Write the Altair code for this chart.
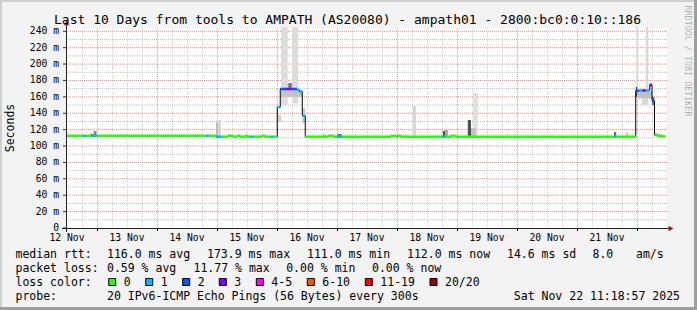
import altair as alt
import pandas as pd

# ---------------- data ----------------
title_text = "Last 10 Days from tools to AMPATH (AS20080) - ampath01 - 2800:bc0:0:10::186"
day_labels = ["12 Nov", "13 Nov", "14 Nov", "15 Nov", "16 Nov",
              "17 Nov", "18 Nov", "19 Nov", "20 Nov", "21 Nov"]
day_label_hours = [0, 24, 48, 72, 96, 120, 144, 168, 192, 216]
y_ticks_ms = [0, 20, 40, 60, 80, 100, 120, 140, 160, 180, 200, 220, 240]

# median rtt segments (hours since 12 Nov 12:00, ms, loss class)
seg_start = [0, 6.5, 7.6, 9.6, 11.8, 55.6, 56.6, 59.6, 61.6, 64.4, 66.4, 68.0, 69.2, 71.2,
             72.0, 73.5, 74.5, 78.0, 79.2, 81.5, 82.5, 84.1, 85.3, 87.7, 89.7, 92.0, 93.0,
             94.1, 95.3, 104.4, 106.4, 108.1, 109.9, 129.6, 131.6, 132.1, 133.5, 150.3,
             151.3, 153.6, 155.6, 218.8, 219.7, 227.5, 228.9, 230.1, 231.5, 233.1, 234.0,
             235.0, 236.0, 237.5]
seg_end = seg_start[1:] + [239.3]
seg_rtt = [112.5, 112.5, 112.5, 112.5, 112.5, 112.5, 112.5, 111.4, 111.4, 112.5, 111.4, 112.5,
           111.4, 112.5, 111.4, 111.4, 111.4, 112.5, 111.4, 111.4, 111.4, 147.5, 169.6, 169.6,
           169.6, 168.3, 166.5, 137.0, 111.4, 112.5, 111.4, 111.4, 111.4, 112.5, 111.4, 112.5,
           111.4, 111.4, 111.4, 112.5, 111.4, 111.4, 111.4, 167.5, 167.8, 167.8, 167.8, 174.5,
           155.0, 113.5, 112.5, 111.8]
seg_loss = ["0", "1", "0", "1", "0", "1", "0", "1", "0", "0", "0", "0", "0", "0",
            "0", "1", "0", "0", "0", "1", "0", "1", "2", "3", "2", "1", "1",
            "1", "0", "0", "0", "1", "0", "0", "0", "0", "0", "1",
            "0", "0", "0", "1", "0", "2", "1", "3", "1", "3", "2",
            "0", "0", "0"]

# smoke (ping spread) bars
smoke_start = [9.6, 10.6, 59.6, 60.5, 84.1, 85.6, 90.1, 85.6, 88.3, 88.8, 94.1, 102.3, 108.1,
               134.3, 138.3, 150.3, 151.3, 160.3, 162.5, 161.6, 175.6, 218.8, 223.5,
               227.7, 231.5, 228.5, 230.0, 227.5, 233.1, 234.0, 235.0]
smoke_end = [10.6, 11.8, 60.5, 61.5, 85.7, 88.3, 92.5, 94.1, 90.1, 89.6, 95.3, 103.7, 109.9,
             136.3, 139.6, 151.3, 152.3, 161.6, 164.3, 163.6, 176.4, 219.7, 224.5,
             228.5, 232.5, 234.0, 232.0, 228.1, 234.0, 235.0, 236.5]
smoke_lo = [112, 112, 111, 111, 129, 150, 152, 160, 169, 171, 128, 111.4, 111.4,
            111.4, 111.4, 112, 112, 112, 112, 112, 112, 111.4, 111.4,
            160, 150, 158, 150, 160, 174, 150, 112]
smoke_hi = [114.7, 118.3, 129, 131.7, 138, 245, 245, 169, 177, 176.5, 146, 114.7, 114.7,
            114, 149, 118.5, 119.5, 131.7, 165, 122, 115.5, 117, 117,
            245, 245, 167, 158, 172, 176.5, 160, 115]
smoke_shade = ["#5a5a5a", "#8a8a8a", "#bdbdbd", "#d2d2d2", "#d2d2d2", "#dcdcdc", "#dcdcdc",
               "#c4c4c4", "#9a9a9a", "#707070", "#c8c8c8", "#d2d2d2", "#707070",
               "#dcdcdc", "#d8d8d8", "#555555", "#9a9a9a", "#505050", "#dedede", "#c4c4c4",
               "#dcdcdc", "#666666", "#cccccc",
               "#d8d8d8", "#d8d8d8", "#c0c0c0", "#d8d8d8", "#555555", "#888888", "#707070",
               "#888888"]

loss_classes = ["0", "1", "2", "3", "4-5", "6-10", "11-19", "20/20"]
loss_colors = ["#26ff00", "#00b8ff", "#0059ff", "#7e00ff", "#ff00ff", "#ff5500", "#ff0000", "#a10000"]

rtt_stats = ["116.0 ms avg", "173.9 ms max", "111.0 ms min", "112.0 ms now", "14.6 ms sd", "8.0", "am/s"]
loss_stats = ["0.59 % avg", "11.77 % max", "0.00 % min", "0.00 % now"]
probe_text = "20 IPv6-ICMP Echo Pings (56 Bytes) every 300s"
stamp_text = "Sat Nov 22 11:18:57 2025"

# ---------------- layout ----------------
W, H = 600, 200
PL, PT = 67, 28
X_MAX, Y_MAX = 240, 244
FONT = "DejaVu Sans Mono"
rtt_x = [107, 207, 307, 407, 507, 592.5, 636]
loss_x = [107, 193.5, 286.2, 372]
box_x = [108.7, 145.7, 182.7, 219.3, 256.3, 307.3, 365.3, 430]
row_y = [257.5, 271.5, 285.5, 299.5]

xs = alt.Scale(domain=[0, X_MAX], nice=False, zero=False)
ys = alt.Scale(domain=[0, Y_MAX], nice=False, zero=False)

one = pd.DataFrame({"a": [0]})

# grid
minor_v = pd.DataFrame({"h": [h for h in range(6, 240, 6) if (h - 12) % 24 != 0]})
major_v = pd.DataFrame({"h": list(range(12, 240, 24))})
minor_h = pd.DataFrame({"v": list(range(10, 241, 20))})
major_h = pd.DataFrame({"v": list(range(20, 241, 20))})

g1 = alt.Chart(minor_v).mark_rule(color="#d4d4d4", strokeDash=[1, 1], strokeWidth=1, xOffset=0.5).encode(
    x=alt.X("h:Q", scale=xs, axis=None))
g2 = alt.Chart(minor_h).mark_rule(color="#bdbdbd", strokeDash=[1, 1], strokeWidth=1).encode(
    y=alt.Y("v:Q", scale=ys, axis=None))
g3 = alt.Chart(major_v).mark_rule(color="#eba3a3", strokeDash=[1, 1], strokeWidth=1, xOffset=0.5).encode(
    x=alt.X("h:Q", scale=xs, axis=None))
g4 = alt.Chart(major_h).mark_rule(color="#e49494", strokeDash=[1, 1], strokeWidth=1).encode(
    y=alt.Y("v:Q", scale=ys, axis=None))

# axis labels & ticks (positioned through the scales)
xlab_df = pd.DataFrame({"h": day_label_hours, "label": day_labels})
xlabels = alt.Chart(xlab_df).mark_text(font=FONT, fontSize=9.7, align="center", baseline="top", color="#000").encode(
    x=alt.X("h:Q", scale=xs, axis=None), y=alt.value(205), text="label:N")
ylab_df = pd.DataFrame({"v": y_ticks_ms,
                        "label": ["0\u00a0\u00a0" if v == 0 else "%d m" % v for v in y_ticks_ms]})
ylabels = alt.Chart(ylab_df).mark_text(font=FONT, fontSize=9.7, align="right", baseline="middle", color="#000").encode(
    y=alt.Y("v:Q", scale=ys, axis=None), x=alt.value(-8), text="label:N")
yticks = alt.Chart(ylab_df).mark_rule(color="#333", strokeWidth=1).encode(
    y=alt.Y("v:Q", scale=ys, axis=None), x=alt.value(-4), x2=alt.value(0))
xt = alt.Chart(major_v).mark_rule(color="#000", strokeWidth=1, xOffset=0.5).encode(
    x=alt.X("h:Q", scale=xs, axis=None), y=alt.value(200), y2=alt.value(203))

# smoke
smoke_df = pd.DataFrame({"t0": smoke_start, "t1": smoke_end, "lo": smoke_lo,
                         "hi": smoke_hi, "shade": smoke_shade})
smoke = alt.Chart(smoke_df).mark_rect().encode(
    x=alt.X("t0:Q", scale=xs, axis=None), x2="t1:Q",
    y=alt.Y("lo:Q", scale=ys, axis=None), y2="hi:Q",
    fill=alt.Fill("shade:N", scale=None),
)

# median line (black connectors) + loss coloured segments
pts = []
for i, (a, b, r) in enumerate(zip(seg_start, seg_end, seg_rtt)):
    pts.append({"t": a, "rtt": r, "o": 2 * i})
    pts.append({"t": b, "rtt": r, "o": 2 * i + 1})
line_df = pd.DataFrame(pts)
med_line = alt.Chart(line_df).mark_line(color="#000", strokeWidth=1).encode(
    x=alt.X("t:Q", scale=xs, axis=None), y=alt.Y("rtt:Q", scale=ys, axis=None), order="o:Q")

seg_df = pd.DataFrame({"t0": seg_start, "t1": seg_end, "rtt": seg_rtt, "loss": seg_loss})
loss_scale = alt.Scale(domain=loss_classes, range=loss_colors)
med_col = alt.Chart(seg_df).mark_rule(strokeWidth=2.5, strokeCap="butt").encode(
    x=alt.X("t0:Q", scale=xs, axis=None), x2="t1:Q",
    y=alt.Y("rtt:Q", scale=ys, axis=None),
    color=alt.Color("loss:N", scale=loss_scale, legend=None))

# axis lines and arrows
AX = "#222"
xaxis = alt.Chart(one).mark_rule(color=AX, strokeWidth=1).encode(
    x=alt.value(-5), x2=alt.value(602), y=alt.value(200.5))
yaxis = alt.Chart(one).mark_rule(color=AX, strokeWidth=1).encode(
    x=alt.value(-0.5), y=alt.value(-3), y2=alt.value(204))
arrow_up = alt.Chart(one).mark_point(shape="triangle-up", filled=True, size=30, color="#8b1a1a", opacity=1).encode(
    x=alt.value(-0.5), y=alt.value(-5))
arrow_rt = alt.Chart(one).mark_point(shape="triangle-right", filled=True, size=30, color="#8b1a1a", opacity=1).encode(
    x=alt.value(604), y=alt.value(200.5))

# texts
txt_rows = []
txt_rows.append({"text": "median rtt:", "px": 15.5, "py": row_y[0]})
for t, x in zip(rtt_stats, rtt_x):
    txt_rows.append({"text": t, "px": x, "py": row_y[0]})
txt_rows.append({"text": "packet loss:", "px": 15.5, "py": row_y[1]})
for t, x in zip(loss_stats, loss_x):
    txt_rows.append({"text": t, "px": x, "py": row_y[1]})
txt_rows.append({"text": "loss color:", "px": 15.5, "py": row_y[2]})
for t, x in zip(loss_classes, box_x):
    txt_rows.append({"text": t, "px": x + 15.0, "py": row_y[2]})
txt_rows.append({"text": "probe:", "px": 15.5, "py": row_y[3]})
txt_rows.append({"text": probe_text, "px": 107, "py": row_y[3]})
txt_df = pd.DataFrame(txt_rows)
txt_df["px"] = txt_df["px"] - PL
txt_df["py"] = txt_df["py"] - PT
legend_txt = alt.Chart(txt_df).mark_text(font=FONT, fontSize=11.5, align="left", baseline="alphabetic", color="#000").encode(
    x=alt.X("px:Q", scale=None, axis=None), y=alt.Y("py:Q", scale=None, axis=None), text="text:N")

stamp = alt.Chart(one).mark_text(font=FONT, fontSize=11.5, align="right", baseline="alphabetic", color="#000").encode(
    x=alt.value(680 - PL), y=alt.value(row_y[3] - PT), text=alt.value(stamp_text))

title = alt.Chart(one).mark_text(font=FONT, fontSize=13, align="center", baseline="alphabetic", color="#000").encode(
    x=alt.value(347.5 - PL), y=alt.value(24 - PT), text=alt.value(title_text))

ylabel = alt.Chart(one).mark_text(font=FONT, fontSize=11.5, align="center", baseline="middle", angle=270, color="#000").encode(
    x=alt.value(10.5 - PL), y=alt.value(128 - PT), text=alt.value("Seconds"))

credit = alt.Chart(one).mark_text(font=FONT, fontSize=8.4, align="center", baseline="middle", angle=90, color="#b4b4b4").encode(
    x=alt.value(687.5 - PL), y=alt.value(61 - PT), text=alt.value("RRDTOOL / TOBI OETIKER"))

box_df = pd.DataFrame({"loss": loss_classes, "bx": [b - PL for b in box_x],
                       "bx2": [b - PL + 7 for b in box_x],
                       "by": [278.5 - PT] * len(box_x), "by2": [285.5 - PT] * len(box_x)})
boxes = alt.Chart(box_df).mark_rect(stroke="#000", strokeWidth=1).encode(
    x=alt.X("bx:Q", scale=None, axis=None), x2="bx2:Q",
    y=alt.Y("by:Q", scale=None, axis=None), y2="by2:Q",
    color=alt.Color("loss:N", scale=loss_scale, legend=None))

# frame
def frame(x0, x1, y0, y1, c):
    return alt.Chart(one).mark_rect(color=c).encode(
        x=alt.value(x0 - PL), x2=alt.value(x1 - PL), y=alt.value(y0 - PT), y2=alt.value(y1 - PT))

frames = [frame(0, 697, 0, 2, "#cfcfcf"), frame(0, 2, 0, 310, "#cfcfcf"),
          frame(0, 697, 307, 310, "#9e9e9e"), frame(694, 697, 0, 310, "#9e9e9e")]

chart = alt.layer(
    g1, g2, g3, g4, smoke, med_line, med_col, xt, yticks, xaxis, yaxis, arrow_up, arrow_rt,
    xlabels, ylabels, legend_txt, stamp, title, ylabel, credit, boxes, *frames
).properties(
    width=W, height=H, background="#f3f3f3",
    padding={"left": PL, "top": PT, "right": 697 - PL - W, "bottom": 310 - PT - H},
    autosize=alt.AutoSizeParams(type="none"),
).configure_view(fill="white", stroke=None)

chart.save("out.html", embed_options={"renderer": "svg", "actions": False})
